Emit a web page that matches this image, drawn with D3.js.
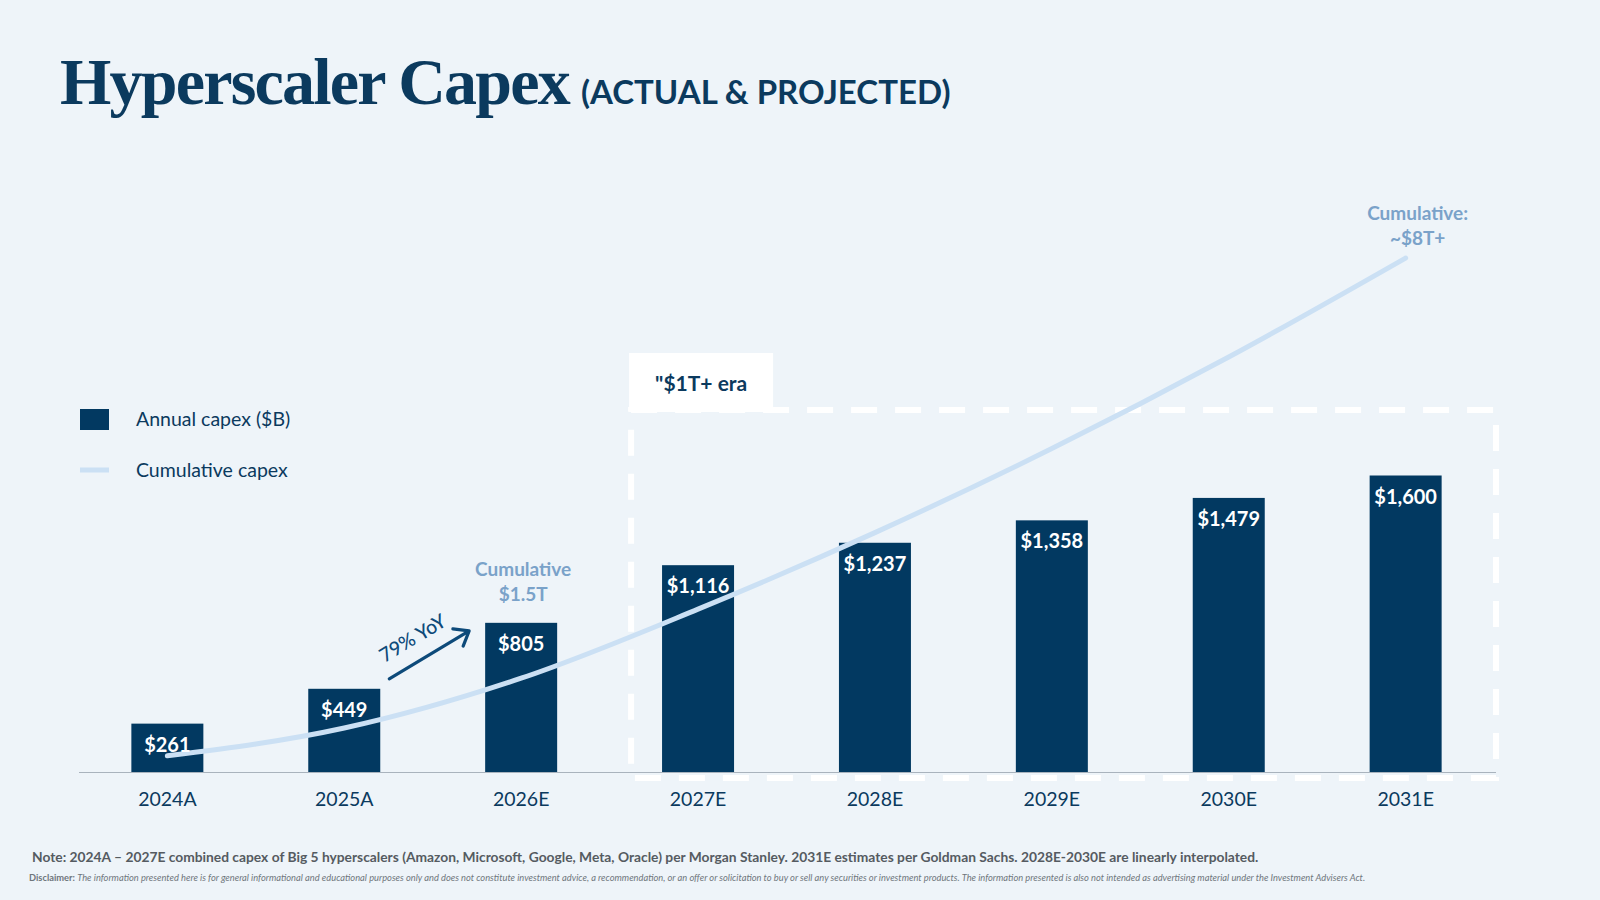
<!DOCTYPE html>
<html>
<head>
<meta charset="utf-8">
<script src="https://cdn.jsdelivr.net/npm/d3@7"></script>
<style>
  body { margin: 0; background: #eef4f9; }
  svg { display: block; }
</style>
</head>
<body>
<script>
// values
const years = ["2024A", "2025A", "2026E", "2027E", "2028E", "2029E", "2030E", "2031E"];
const annualCapex = [261, 449, 805, 1116, 1237, 1358, 1479, 1600];
const cumulativeCapex = [261, 710, 1515, 2631, 3868, 5226, 6705, 8305];
const legendLabels = ["Annual capex ($B)", "Cumulative capex"];

const navy = "#023961",
  lineBlue = "#cbe0f4",
  noteBlue = "#7aa2c9",
  sans = "Lato, 'Noto Sans', sans-serif";

var svg = d3.select("body").append("svg").attr("width", 1600).attr("height", 900);

svg.append("rect").attr("width", 1600).attr("height", 900).attr("fill", "#eef4f9");

// title
var title = svg.append("text").attr("x", 60).attr("y", 104);
title
  .append("tspan")
  .attr("font-family", "'Liberation Serif', serif")
  .attr("font-weight", 700)
  .attr("font-size", 66)
  .attr("letter-spacing", -1.8)
  .attr("fill", "#0b3a5e")
  .text("Hyperscaler Capex");
title
  .append("tspan")
  .attr("dx", 12)
  .attr("font-family", sans)
  .attr("font-weight", 700)
  .attr("font-size", 33)
  .attr("fill", "#0b3a5e")
  .text("(ACTUAL & PROJECTED)");

var x = d3
  .scaleBand()
  .domain(years)
  .range([79, 1494])
  .paddingInner(0.593)
  .paddingOuter(0.296);

var yBar = d3.scaleLinear().domain([0, 1600]).range([772, 475.5]);
var yCum = d3.scaleLinear().domain([0, 8305]).range([772, 258]);

var cx = (d) => x(d) + x.bandwidth() / 2;

// "$1T+ era" dashed box
var boxLeft = x("2027E") - x.step() * 0.175,
  boxRight = x.range()[1] + 2;

svg
  .append("rect")
  .attr("x", boxLeft)
  .attr("y", 410)
  .attr("width", boxRight - boxLeft)
  .attr("height", 368)
  .attr("fill", "none")
  .attr("stroke", "#fff")
  .attr("stroke-width", 6)
  .attr("stroke-dasharray", "26,18");

// axis baseline
svg
  .append("line")
  .attr("x1", 79)
  .attr("x2", boxRight)
  .attr("y1", 772.5)
  .attr("y2", 772.5)
  .attr("stroke", "#a9b3bd")
  .attr("stroke-width", 1);

svg
  .append("g")
  .selectAll("rect")
  .data(years)
  .enter()
  .append("rect")
  .attr("x", (d) => x(d))
  .attr("y", (d, i) => yBar(annualCapex[i]))
  .attr("width", x.bandwidth())
  .attr("height", (d, i) => yBar(0) - yBar(annualCapex[i]))
  .attr("fill", navy);

var line = d3
  .line()
  .x((d, i) => cx(years[i]))
  .y((d) => yCum(d))
  .curve(d3.curveMonotoneX);

svg
  .append("path")
  .datum(cumulativeCapex)
  .attr("d", line)
  .attr("fill", "none")
  .attr("stroke", lineBlue)
  .attr("stroke-width", 5)
  .attr("stroke-linecap", "round");

// value labels inside bars
svg
  .append("g")
  .selectAll("text")
  .data(years)
  .enter()
  .append("text")
  .attr("x", (d) => cx(d))
  .attr("y", (d, i) => yBar(annualCapex[i]) + 28)
  .attr("text-anchor", "middle")
  .attr("font-family", sans)
  .attr("font-weight", 700)
  .attr("font-size", 20)
  .attr("fill", "#fff")
  .text((d, i) => "$" + d3.format(",")(annualCapex[i]));

// x axis labels
svg
  .append("g")
  .attr("transform", "translate(0,772)")
  .call(d3.axisBottom(x).tickSize(0).tickPadding(20))
  .call((g) => g.select(".domain").remove())
  .selectAll("text")
  .attr("font-family", sans)
  .attr("font-size", 19.5)
  .attr("fill", "#0b3a5e");

// era label
svg
  .append("rect")
  .attr("x", boxLeft - 2)
  .attr("y", 353)
  .attr("width", 144)
  .attr("height", 59)
  .attr("fill", "#fff");

svg
  .append("text")
  .attr("x", boxLeft + 24)
  .attr("y", 391)
  .attr("font-family", sans)
  .attr("font-weight", 700)
  .attr("font-size", 21)
  .attr("fill", "#0b3a5e")
  .text('"$1T+ era');

// cumulative callouts
function callout(cxPos, y, lines) {
  svg
    .append("text")
    .attr("text-anchor", "middle")
    .attr("font-family", sans)
    .attr("font-weight", 700)
    .attr("font-size", 19)
    .attr("fill", noteBlue)
    .selectAll("tspan")
    .data(lines)
    .enter()
    .append("tspan")
    .attr("x", cxPos)
    .attr("y", (d, i) => y + i * 25)
    .text((d) => d);
}

callout(cx("2026E") + 2, 576, ["Cumulative", "$1.5T"]);
callout(cx("2031E") + 12, 220, ["Cumulative:", "~$8T+"]);

// 79% YoY arrow
var x0 = cx("2025A") + 45,
  y0 = yBar(449) - 10,
  x1 = cx("2026E") - 52,
  y1 = yBar(805) + 8;
var ang = Math.atan2(y1 - y0, x1 - x0);
var len = Math.hypot(x1 - x0, y1 - y0);

var arrow = svg
  .append("g")
  .attr("transform", `translate(${x0},${y0}) rotate(${(ang * 180) / Math.PI})`);

arrow
  .append("path")
  .attr("d", `M0,0H${len}M${len - 13},-10L${len},0L${len - 13},10`)
  .attr("fill", "none")
  .attr("stroke", "#0d4a7a")
  .attr("stroke-width", 3.2)
  .attr("stroke-linecap", "round")
  .attr("stroke-linejoin", "round");

arrow
  .append("text")
  .attr("x", 4)
  .attr("y", -16)
  .attr("font-family", sans)
  .attr("font-weight", 500)
  .attr("font-size", 19.5)
  .attr("fill", "#0d4a7a")
  .text("79% YoY");

// legend
var legend = svg.append("g").attr("transform", "translate(80,0)");

legend.append("rect").attr("y", 409).attr("width", 29).attr("height", 21).attr("fill", navy);
legend
  .append("line")
  .attr("x1", 0)
  .attr("x2", 29)
  .attr("y1", 470)
  .attr("y2", 470)
  .attr("stroke", lineBlue)
  .attr("stroke-width", 5);

legend
  .selectAll(".label")
  .data(legendLabels)
  .enter()
  .append("text")
  .attr("class", "label")
  .attr("x", 56)
  .attr("y", (d, i) => 426 + i * 51)
  .attr("font-family", sans)
  .attr("font-size", 19.5)
  .attr("fill", "#0b3a5e")
  .text((d) => d);

// footnotes
svg
  .append("text")
  .attr("x", 32)
  .attr("y", 862)
  .attr("font-family", sans)
  .attr("font-weight", 700)
  .attr("font-size", 13.8)
  .attr("fill", "#555b61")
  .text(
    "Note: 2024A \u2013 2027E combined capex of Big 5 hyperscalers (Amazon, Microsoft, Google, Meta, Oracle) per Morgan Stanley. 2031E estimates per Goldman Sachs. 2028E-2030E are linearly interpolated."
  );

var disc = svg
  .append("text")
  .attr("x", 29)
  .attr("y", 881)
  .attr("font-family", sans)
  .attr("font-size", 9.3)
  .attr("fill", "#6f767c");
disc.append("tspan").attr("font-weight", 700).text("Disclaimer: ");
disc
  .append("tspan")
  .attr("font-style", "italic")
  .text(
    "The information presented here is for general informational and educational purposes only and does not constitute investment advice, a recommendation, or an offer or solicitation to buy or sell any securities or investment products. The information presented is also not intended as advertising material under the Investment Advisers Act."
  );
</script>
</body>
</html>
